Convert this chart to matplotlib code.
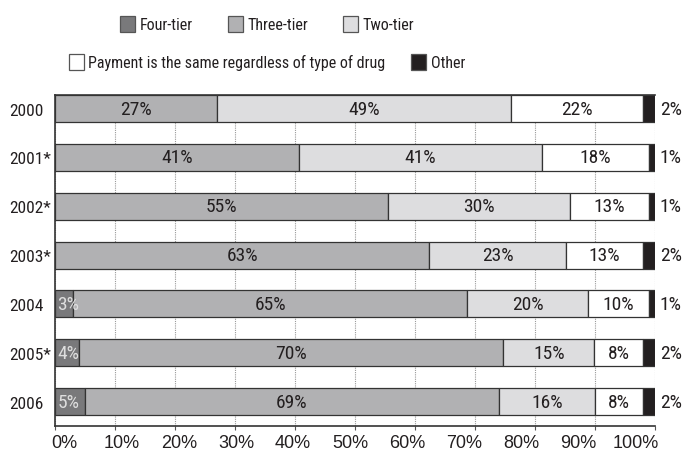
import matplotlib
matplotlib.use("Agg")
import matplotlib.pyplot as plt
import numpy as np
from matplotlib.patches import Patch

narrow = ['Liberation Sans Narrow', 'Roboto Condensed', 'Arial Narrow',
          'Roboto', 'DejaVu Sans']
plt.rcParams['font.family'] = narrow
plt.rcParams['font.stretch'] = 'condensed'

years = ["2000", "2001*", "2002*", "2003*", "2004", "2005*", "2006"]
series = ["Four-tier", "Three-tier", "Two-tier",
          "Payment is the same regardless of type of drug", "Other"]
four_tier = [0, 0, 0, 0, 3, 4, 5]
three_tier = [27, 41, 55, 63, 65, 70, 69]
two_tier = [49, 41, 30, 23, 20, 15, 16]
same_payment = [22, 18, 13, 13, 10, 8, 8]
other = [2, 1, 1, 2, 1, 2, 2]
x_ticks = [0, 10, 20, 30, 40, 50, 60, 70, 80, 90, 100]

colors = ["#79797b", "#b1b1b3", "#dddddf", "#ffffff", "#231f20"]
ink = "#231f20"

data = np.array([four_tier, three_tier, two_tier, same_payment, other], dtype=float)
# each row of the chart is shown as shares of its own total
shares = data / data.sum(axis=0) * 100

W, H = 684, 452
fig = plt.figure(figsize=(W / 100, H / 100), dpi=100)
ax = fig.add_axes([55 / W, 1 - 427 / H, 600 / W, (427 - 96) / H])

ypos = np.arange(len(years))
bar_h = 0.553
left = np.zeros(len(years))
fs = 14
for i, (vals, col) in enumerate(zip(shares, colors)):
    ax.barh(ypos, vals, left=left, height=bar_h, color=col,
            edgecolor="#333333", linewidth=0.9, zorder=3)
    for j, v in enumerate(vals):
        raw = int(data[i, j])
        if raw == 0:
            continue
        label = f"{raw}%"
        if i == 0:
            ax.text(left[j] + 0.4, ypos[j], label, ha="left", va="center",
                    fontsize=fs, color="#dedede", zorder=5)
        elif i == 4:
            ax.text(100.8, ypos[j], label, ha="left", va="center",
                    fontsize=fs, color=ink, zorder=5, clip_on=False)
        else:
            ax.text(left[j] + v / 2, ypos[j], label, ha="center", va="center",
                    fontsize=fs, color=ink, zorder=5)
    left += vals

ax.set_xlim(0, 100)
ax.set_ylim(6.5, -bar_h / 2)

# year labels flush left
ax.set_yticks(ypos)
ax.set_yticklabels(years, fontsize=12.5, color=ink, ha="left")
ax.tick_params(axis="y", length=0, pad=46 * 72 / 100)

# tick marks on the value axis; its labels sit on evenly spread slots below
ax.set_xticks(x_ticks)
ax.tick_params(axis="x", which="both", direction="out", length=3, width=0.8,
               color="#555555", top=True, bottom=True, labelbottom=False)
lab = ax.twiny()
lab.set_xlim(0, 1)
lab.set_xticks(np.linspace(0.016, 0.968, len(x_ticks)))
lab.set_xticklabels([f"{t}%" for t in x_ticks], fontsize=13, color=ink,
                    family=['Liberation Sans', 'DejaVu Sans'], stretch='normal')
lab.xaxis.set_ticks_position("bottom")
lab.xaxis.set_label_position("bottom")
lab.tick_params(axis="x", length=0, pad=5.5)
for s in lab.spines.values():
    s.set_visible(False)

ax.grid(axis="x", linestyle=(0, (1, 1)), color="#9a9a9a", linewidth=0.8, zorder=0)
ax.set_axisbelow(True)
ax.spines["right"].set_visible(False)
for side in ["left", "bottom", "top"]:
    ax.spines[side].set_color("#333333")
    ax.spines[side].set_linewidth(1.2)

handles = [Patch(facecolor=c, edgecolor="#555555", linewidth=0.9) for c in colors]
leg_fs = 11.5
leg_kw = dict(frameon=False, fontsize=leg_fs, handlelength=0.95, handleheight=1.2,
              handletextpad=0.27, borderaxespad=0, borderpad=0)
leg1 = fig.legend(handles[:3], series[:3], loc="center", ncol=3,
                  bbox_to_anchor=(267 / W, 1 - 25 / H), columnspacing=2.2, **leg_kw)
leg2 = fig.legend(handles[3:], series[3:], loc="center", ncol=2,
                  bbox_to_anchor=(267 / W, 1 - 63 / H), columnspacing=1.6, **leg_kw)
for leg in (leg1, leg2):
    for t in leg.get_texts():
        t.set_color(ink)

fig.savefig("out.png", dpi=100)
